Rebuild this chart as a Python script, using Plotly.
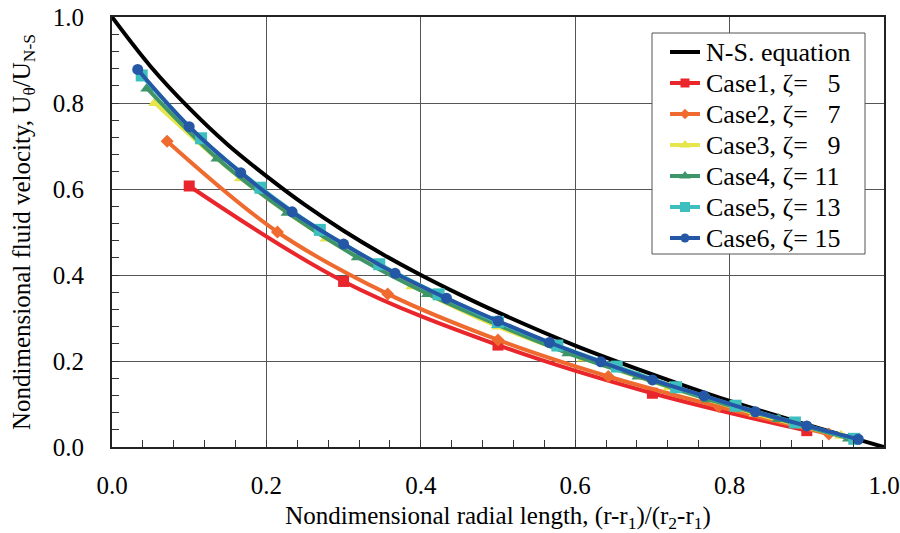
import plotly.graph_objects as go

# N-S equation
ns_x = [0.0, 0.05, 0.1, 0.15, 0.2, 0.25, 0.3, 0.35, 0.4, 0.45, 0.5, 0.6, 0.7, 0.8, 0.9, 1.0]
ns_y = [1.0, 0.885, 0.788, 0.703, 0.630, 0.563, 0.503, 0.449, 0.400, 0.355, 0.313, 0.236, 0.169, 0.107, 0.052, 0.0]

c1_x = [0.1, 0.3, 0.5, 0.7, 0.9]
c1_y = [0.607, 0.385, 0.237, 0.125, 0.038]

c2_x = [0.0714, 0.2143, 0.3571, 0.5, 0.6429, 0.7857, 0.9286]
c2_y = [0.711, 0.500, 0.356, 0.249, 0.164, 0.094, 0.030]

c3_x = [0.0556, 0.1667, 0.2778, 0.3889, 0.5, 0.6111, 0.7222, 0.8333, 0.9444]
c3_y = [0.800, 0.625, 0.485, 0.374, 0.280, 0.206, 0.139, 0.078, 0.026]

c4_x = [0.0455, 0.1364, 0.2273, 0.3182, 0.4091, 0.5, 0.5909, 0.6818, 0.7727, 0.8636, 0.9545]
c4_y = [0.834, 0.671, 0.545, 0.441, 0.356, 0.284, 0.218, 0.164, 0.111, 0.065, 0.020]

c5_x = [0.0385, 0.1154, 0.1923, 0.2692, 0.3462, 0.4231, 0.5, 0.5769, 0.6538, 0.7308, 0.8077, 0.8846, 0.9615]
c5_y = [0.864, 0.718, 0.603, 0.505, 0.425, 0.355, 0.291, 0.236, 0.187, 0.139, 0.096, 0.057, 0.019]

c6_x = [0.0333, 0.1, 0.1667, 0.2333, 0.3, 0.3667, 0.4333, 0.5, 0.5667, 0.6333, 0.7, 0.7667, 0.8333, 0.9, 0.9667]
c6_y = [0.878, 0.745, 0.638, 0.547, 0.472, 0.404, 0.346, 0.293, 0.243, 0.198, 0.156, 0.119, 0.082, 0.049, 0.018]

ns_name = "N-S. equation"
names = ["Case1, ζ=\u00a0\u00a0\u00a05", "Case2, ζ=\u00a0\u00a0\u00a07", "Case3, ζ=\u00a0\u00a0\u00a09",
         "Case4, ζ=\u00a011", "Case5, ζ=\u00a013", "Case6, ζ=\u00a015"]
colors = ["#E8262B", "#EE6A2E", "#E6E54C", "#3F956A", "#3DBFC0", "#2457A6"]
symbols = ["square", "diamond", "triangle-up", "triangle-up", "square", "circle"]
sizes = [11, 10, 12, 12, 12, 11]
leg_sizes = [9, 8, 10, 10, 10, 9]
xs = [c1_x, c2_x, c3_x, c4_x, c5_x, c6_x]
ys = [c1_y, c2_y, c3_y, c4_y, c5_y, c6_y]

font = "Liberation Serif, Times New Roman, serif"

fig = go.Figure()
fig.add_trace(go.Scatter(x=ns_x, y=ns_y, mode="lines", name=ns_name, showlegend=False,
                         line=dict(color="black", width=4, shape="spline")))
for n, c, s, sz, x, y in zip(names, colors, symbols, sizes, xs, ys):
    fig.add_trace(go.Scatter(x=x, y=y, mode="lines+markers", name=n, showlegend=False,
                             line=dict(color=c, width=4, shape="spline"),
                             marker=dict(symbol=s, size=sz, color=c)))

# ---- hand-made legend on an overlay axis spanning the plot area (0..1 both ways) ----
PX0, PX1, PY0, PY1 = 112, 884, 17, 447          # plot-area pixel frame
def fx(px): return (px - PX0) / (PX1 - PX0)
def fy(py): return (PY1 - py) / (PY1 - PY0)

bx0, bx1, by0, by1 = fx(652), fx(865), fy(33), fy(254)
fig.add_trace(go.Scatter(x=[bx0, bx1, bx1, bx0, bx0], y=[by0, by0, by1, by1, by0],
                         xaxis="x2", yaxis="y2", mode="lines", fill="toself",
                         fillcolor="white", line=dict(color="#555555", width=1),
                         showlegend=False, hoverinfo="skip"))
row_py = [52, 83, 114, 145, 176, 207, 238]
lx0, lx1, lxm, tx = fx(670), fx(700), fx(685), fx(704)
leg_labels = [ns_name] + names
leg_colors = ["black"] + colors
for i, (lab, col) in enumerate(zip(leg_labels, leg_colors)):
    yy = fy(row_py[i])
    fig.add_trace(go.Scatter(x=[lx0, lx1], y=[yy, yy], xaxis="x2", yaxis="y2", mode="lines",
                             line=dict(color=col, width=4), showlegend=False, hoverinfo="skip"))
    if i > 0:
        fig.add_trace(go.Scatter(x=[lxm], y=[yy], xaxis="x2", yaxis="y2", mode="markers",
                                 marker=dict(symbol=symbols[i - 1], size=leg_sizes[i - 1], color=col),
                                 showlegend=False, hoverinfo="skip"))
    fig.add_annotation(x=tx, y=yy, xref="x2", yref="y2", text=lab, showarrow=False,
                       xanchor="left", yanchor="middle",
                       font=dict(family=font, size=26, color="black"))

axis_common = dict(
    showgrid=True, gridcolor="#555555", gridwidth=1,
    showline=True, linecolor="#222222", linewidth=2, mirror=True,
    ticks="inside", ticklen=7, tickcolor="#333333",
    tickfont=dict(family=font, size=25, color="black"),
    zeroline=False, automargin=False, ticklabeloverflow="allow",
    minor=dict(dtick=0.04, ticks="inside", ticklen=7, tickcolor="#333333", showgrid=False),
)
fig.update_layout(
    width=900, height=533,
    paper_bgcolor="white", plot_bgcolor="white",
    margin=dict(l=112, r=16, t=17, b=86),
    font=dict(family=font, size=25, color="black"),
    showlegend=False,
    xaxis=dict(range=[0, 1], dtick=0.2, tickformat=".1f", ticklabelstandoff=15,
               title=dict(text="Nondimensional radial length, (r-r<sub>1</sub>)/(r<sub>2</sub>-r<sub>1</sub>)",
                          font=dict(family=font, size=25), standoff=10),
               **axis_common),
    yaxis=dict(range=[0, 1], dtick=0.2, tickformat=".1f", ticklabelstandoff=21,
               title=dict(text="Nondimensional fluid velocity, U<sub>θ</sub>/U<sub>N-S</sub>",
                          font=dict(family=font, size=25), standoff=15),
               **axis_common),
    xaxis2=dict(overlaying="x", range=[0, 1], visible=False, fixedrange=True),
    yaxis2=dict(overlaying="y", range=[0, 1], visible=False, fixedrange=True),
)
fig.write_html("out.html", config={"displayModeBar": False},
               post_script="document.body.style.margin='0';document.body.style.overflow='hidden';")
